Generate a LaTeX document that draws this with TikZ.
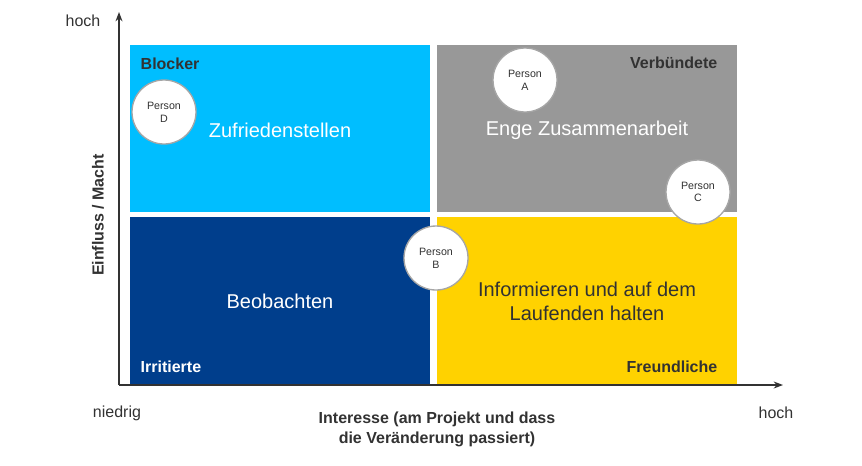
\documentclass[tikz,border=0pt]{standalone}
\usepackage{fontspec}
\setmainfont{Liberation Sans}
\usetikzlibrary{arrows.meta}
\definecolor{lightblue}{RGB}{0,190,255}
\definecolor{midgray}{RGB}{152,152,152}
\definecolor{darkblue}{RGB}{0,62,140}
\definecolor{gold}{RGB}{255,210,0}
\definecolor{txtdark}{RGB}{50,50,50}
\tikzset{
  quad/.style={draw=none,minimum width=300*0.75pt,minimum height=167*0.75pt,inner sep=0pt},
  quadtext/.style={font=\fontsize{15}{18}\selectfont,align=center},
  corner/.style={font=\bfseries\fontsize{12}{14}\selectfont},
  person/.style={circle,draw=gray!70,line width=1pt,fill=white,minimum size=48pt,inner sep=0pt,
    align=center,font=\fontsize{8}{9.5}\selectfont,text=txtdark},
  axlabel/.style={font=\fontsize{12}{14}\selectfont,text=txtdark}
}
\begin{document}
\begin{tikzpicture}[x=0.75pt,y=-0.75pt]
  \useasboundingbox (0,0) rectangle (862,465);
  % axes
  \coordinate (origin) at (119,385);
  \coordinate (ytop) at (119,12);
  \coordinate (xend) at (783,385);
  \draw[txtdark,line width=1pt,-{Stealth[length=7pt]}] (origin) -- (ytop);
  \draw[txtdark,line width=1pt,-{Stealth[length=7pt]}] (origin) -- (xend);
  % quadrants
  \node[quad,fill=lightblue,anchor=north west] (tl) at (130,45) {};
  \node[quad,fill=midgray,anchor=north west]   (tr) at (437,45) {};
  \node[quad,fill=darkblue,anchor=north west]  (bl) at (130,217) {};
  \node[quad,fill=gold,anchor=north west]      (br) at (437,217) {};
  \node[quadtext,text=white] (tltext) at (280,130) {Zufriedenstellen};
  \node[quadtext,text=white] (trtext) at (587,130) {Enge Zusammenarbeit};
  \node[quadtext,text=white] (bltext) at (280,301) {Beobachten};
  \node[quadtext,text=txtdark] (brtext) at (587,301) {Informieren und auf dem\\Laufenden halten};
  % corner labels
  \node[corner,text=txtdark,anchor=west] (blocker) at (136,64) {Blocker};
  \node[corner,text=txtdark,anchor=east] (verb) at (722,63) {Verbündete};
  \node[corner,text=white,anchor=west] (irr) at (136,367) {Irritierte};
  \node[corner,text=txtdark,anchor=east] (freund) at (722,367) {Freundliche};
  % persons
  \node[person] (pa) at (525,80)  {Person\\A};
  \node[person] (pd) at (164,112) {Person\\D};
  \node[person] (pc) at (698,192) {Person\\C};
  \node[person] (pb) at (436,258) {Person\\B};
  % axis labels
  \node[axlabel] (yhigh) at (83,21) {hoch};
  \node[axlabel] (xlow) at (117,413) {niedrig};
  \node[axlabel] (xhigh) at (776,413) {hoch};
  \node[axlabel,font=\bfseries\fontsize{12}{14}\selectfont,rotate=90] (ylab) at (98,215) {Einfluss / Macht};
  \node[axlabel,font=\bfseries\fontsize{12}{15}\selectfont,align=center] (xlab) at (437,429)
    {Interesse (am Projekt und dass\\die Veränderung passiert)};
\end{tikzpicture}
\end{document}
